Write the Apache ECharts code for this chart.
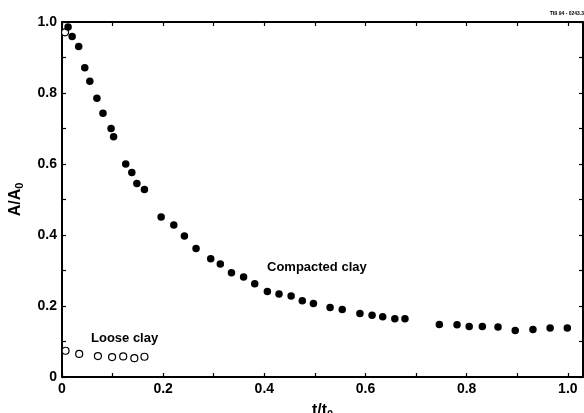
<!DOCTYPE html>
<html>
<head>
<meta charset="utf-8">
<script src="https://cdn.jsdelivr.net/npm/echarts@6/dist/echarts.min.js"></script>
<style>html,body{margin:0;padding:0;background:#fff}#c{width:584px;height:413px}</style>
</head>
<body>
<div id="c"></div>
<script>
// Compacted clay (filled circles)
const compactX = [0.012,0.020,0.033,0.045,0.055,0.069,0.081,0.097,0.102,0.126,0.138,0.148,0.163,0.196,0.221,0.242,0.265,0.294,0.313,0.335,0.359,0.381,0.406,0.429,0.453,0.475,0.497,0.530,0.554,0.589,0.613,0.634,0.658,0.678,0.746,0.781,0.805,0.831,0.862,0.896,0.931,0.965,0.999];
const compactY = [0.986,0.959,0.931,0.871,0.833,0.785,0.743,0.700,0.677,0.600,0.576,0.545,0.528,0.451,0.428,0.397,0.362,0.333,0.318,0.294,0.282,0.263,0.241,0.234,0.228,0.215,0.207,0.196,0.190,0.179,0.174,0.170,0.164,0.164,0.148,0.147,0.142,0.142,0.141,0.131,0.134,0.138,0.138];
// Loose clay (open circles)
const looseX = [0.006,0.007,0.034,0.071,0.099,0.121,0.143,0.163];
const looseY = [0.971,0.074,0.065,0.059,0.056,0.058,0.053,0.057];
const xTickLabels = ['0','0.2','0.4','0.6','0.8','1.0'];
const yTickLabels = ['0','0.2','0.4','0.6','0.8','1.0'];

const FONT = '"Liberation Sans", Arial, sans-serif';
const zip = (xs, ys) => xs.map((x, i) => [x, ys[i]]);
const isMajor = v => Math.abs(v * 5 - Math.round(v * 5)) < 1e-6 && v <= 1.0001;
const fmt = labels => v => isMajor(v) ? labels[Math.round(v * 5)] : '';

const axisLine = { show: true, onZero: false, lineStyle: { color: '#000', width: 2 } };
const tick = { show: true, inside: true, length: 4, lineStyle: { color: '#000', width: 1.2 } };

const chart = echarts.init(document.getElementById('c'), null, { renderer: 'canvas' });
chart.setOption({
  animation: false,
  backgroundColor: '#fff',
  grid: { left: 62, right: 1, top: 22, bottom: 36, containLabel: false, outerBoundsMode: 'none' },
  xAxis: [
    {
      type: 'value', min: 0, max: 1.03, interval: 0.1, position: 'bottom',
      axisLine, axisTick: tick, splitLine: { show: false },
      axisLabel: { formatter: fmt(xTickLabels), color: '#000', fontFamily: FONT, fontWeight: 'bold', fontSize: 14, margin: 5 },
      name: 't/t{s|0}', nameLocation: 'middle', nameGap: 24,
      nameTextStyle: { color: '#000', fontFamily: FONT, fontWeight: 'bold', fontSize: 16,
        rich: { s: { fontSize: 11, fontFamily: FONT, fontWeight: 'bold', color: '#000', padding: [8, 0, 0, 0] } } }
    },
    {
      type: 'value', min: 0, max: 1.03, interval: 0.1, position: 'top',
      axisLine, axisTick: tick, axisLabel: { show: false }, splitLine: { show: false }
    }
  ],
  yAxis: [
    {
      type: 'value', min: 0, max: 1.0, interval: 0.1, position: 'left',
      axisLine, axisTick: tick, splitLine: { show: false },
      axisLabel: { formatter: fmt(yTickLabels), color: '#000', fontFamily: FONT, fontWeight: 'bold', fontSize: 14, margin: 5 },
      name: 'A/A{s|0}', nameLocation: 'middle', nameGap: 37, nameRotate: 90,
      nameTextStyle: { color: '#000', fontFamily: FONT, fontWeight: 'bold', fontSize: 16,
        rich: { s: { fontSize: 11, fontFamily: FONT, fontWeight: 'bold', color: '#000', padding: [8, 0, 0, 0] } } }
    },
    {
      type: 'value', min: 0, max: 1.0, interval: 0.1, position: 'right',
      axisLine, axisTick: tick, axisLabel: { show: false }, splitLine: { show: false }
    }
  ],
  series: [
    {
      name: 'Loose clay', type: 'scatter', data: zip(looseX, looseY),
      symbol: 'circle', symbolSize: 7,
      itemStyle: { color: '#fff', borderColor: '#000', borderWidth: 1.2, opacity: 1 }, z: 2
    },
    {
      name: 'Compacted clay', type: 'scatter', data: zip(compactX, compactY),
      symbol: 'circle', symbolSize: 7.5,
      itemStyle: { color: '#000', opacity: 1 }, z: 3
    }
  ],
  graphic: [
    { type: 'text', left: 267, top: 261, style: { text: 'Compacted clay', font: 'bold 13px ' + FONT, fill: '#000' } },
    { type: 'text', left: 91, top: 332, style: { text: 'Loose clay', font: 'bold 13px ' + FONT, fill: '#000' } },
    { type: 'text', right: 0, top: 11, style: { text: 'TIß 94 - 0243.3', font: 'bold 5px ' + FONT, fill: '#000' } }
  ]
});
</script>
</body>
</html>
